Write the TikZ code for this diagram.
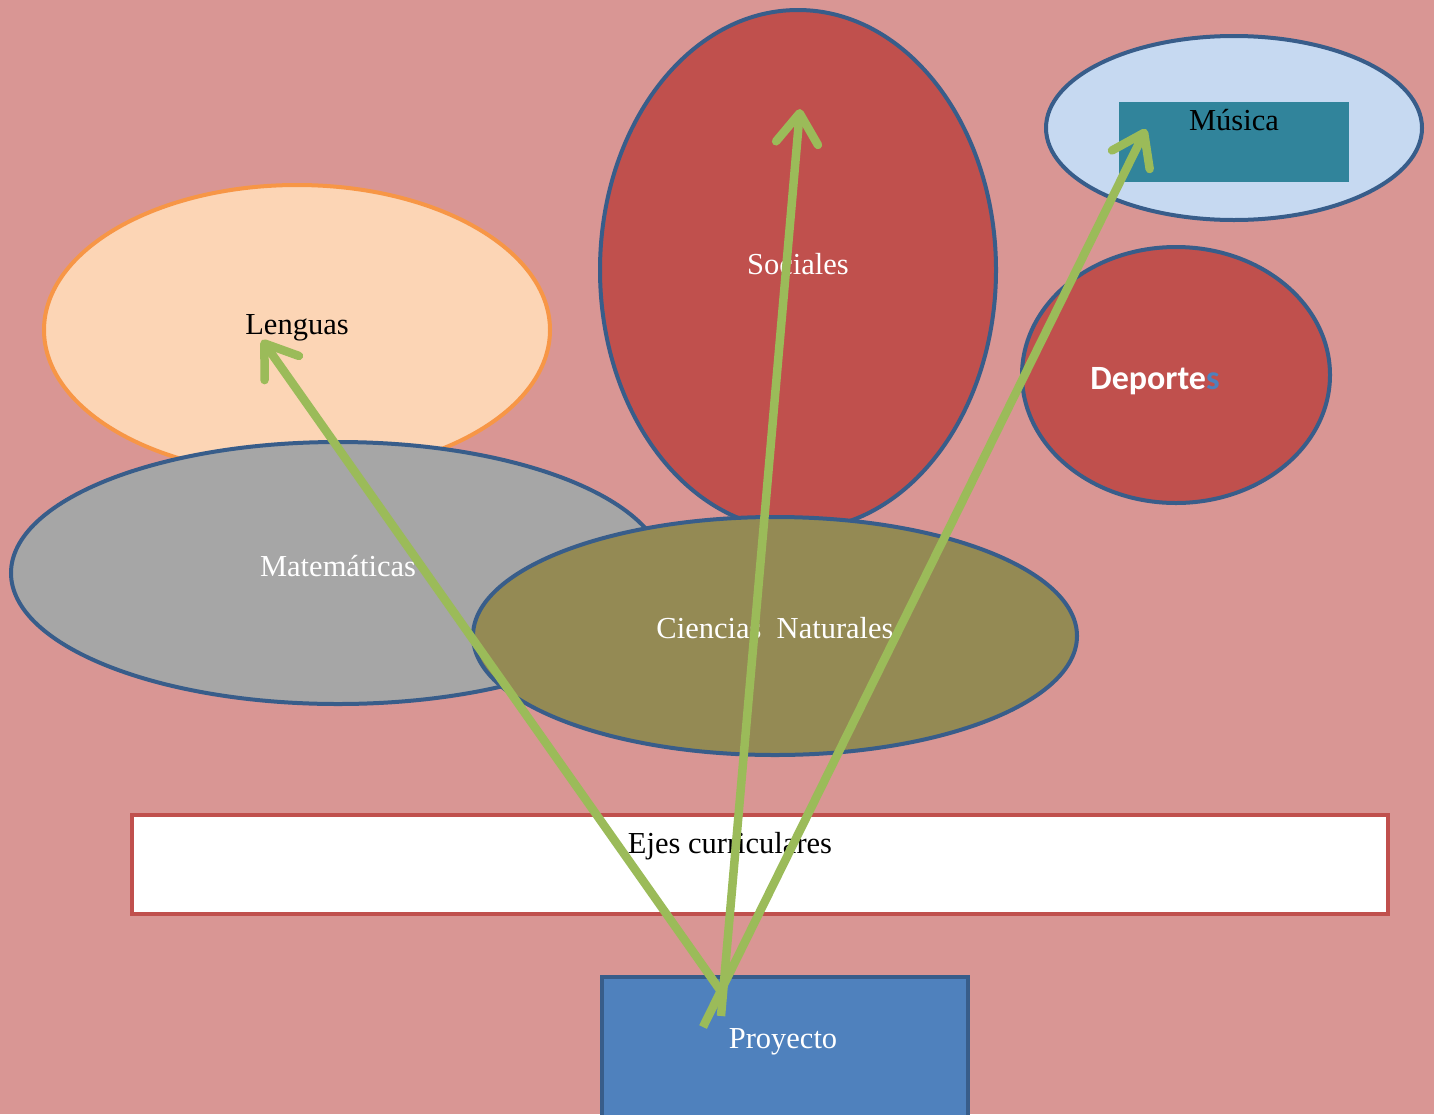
\documentclass[tikz,border=0pt]{standalone}
\usepackage{fontspec}
\setmainfont{Liberation Serif}
\newfontfamily\calib{Carlito}
\usetikzlibrary{shapes.geometric,arrows.meta,calc}
\definecolor{bgpink}{HTML}{D99694}
\definecolor{peach}{HTML}{FCD5B5}
\definecolor{orangeline}{HTML}{F79646}
\definecolor{brick}{HTML}{C0504D}
\definecolor{navyline}{HTML}{385D8A}
\definecolor{paleblue}{HTML}{C6D9F1}
\definecolor{teal}{HTML}{31849B}
\definecolor{midgray}{HTML}{A6A6A6}
\definecolor{olive}{HTML}{948A54}
\definecolor{steel}{HTML}{4F81BD}
\definecolor{leaf}{HTML}{9BBB59}
\tikzset{
  blob/.style={ellipse, draw=navyline, line width=4, inner sep=0pt},
  lbl/.style={font=\fontsize{30.5}{32}\selectfont, inner sep=0pt, anchor=base},
  link/.style={draw=leaf, line width=8.5, line cap=butt,
    -{Straight Barb[length=30pt,width=42pt,line cap=round,line join=round]}},
}
\begin{document}
\begin{tikzpicture}[x=1pt,y=-1pt]
  \fill[bgpink] (0,0) rectangle (1434,1114);
  \useasboundingbox (0,0) rectangle (1434,1114);

  % subject areas
  \node[blob, draw=orangeline, fill=peach, minimum width=506, minimum height=290] (lenguas) at (297,330) {};
  \node[blob, fill=brick, minimum width=396, minimum height=520] (sociales) at (798,270) {};
  \node[blob, fill=paleblue, minimum width=376, minimum height=184] (musica) at (1234,128) {};
  \fill[teal] (1119,102) rectangle (1349,182);
  \node[blob, fill=brick, minimum width=308, minimum height=256] (deportes) at (1176,375) {};
  \node[blob, fill=midgray, minimum width=654, minimum height=262] (mate) at (338,573) {};
  \node[blob, fill=olive, minimum width=604, minimum height=238] (ciencias) at (775,636) {};

  % axes bar and project box
  \node[draw=brick, fill=white, line width=4, minimum width=1256, minimum height=99, inner sep=0pt, anchor=north west] (ejes) at (130,813) {};
  \node[draw=navyline, fill=steel, line width=4, minimum width=366, minimum height=160, inner sep=0pt, anchor=north west] (proyecto) at (600,975) {};

  % labels
  \node[lbl] (tLenguas) at (297,334) {Lenguas};
  \node[lbl, text=white] (tSociales) at (798,274) {Sociales};
  \node[lbl] (tMusica) at (1234,130) {Música};
  \node[lbl, font=\calib\bfseries\fontsize{34}{36}\selectfont, text=white] (tDeportes) at (1155,389) {Deporte\textcolor{steel}{s}};
  \node[lbl, text=white] (tMate) at (338,576) {Matemáticas};
  \node[lbl, text=white] (tCiencias) at (775,638) {Ciencias\ \ Naturales};
  \node[lbl] (tEjes) at (730,853) {Ejes curriculares};
  \node[lbl, text=white] (tProyecto) at (783,1048) {Proyecto};

  % arrow end points
  \coordinate (sL) at ($(proyecto.north west)+(120,15)$);
  \coordinate (sS) at ($(proyecto.north west)+(121,41)$);
  \coordinate (sM) at ($(proyecto.north west)+(103,52)$);
  \coordinate (eL) at ($(lenguas.center)+(-35,10)$);
  \coordinate (eS) at ($(sociales.center)+(2,-161)$);
  \coordinate (eM) at ($(musica.center)+(-88,1)$);

  \draw[link] (sL) -- (eL);
  \draw[link] (sS) -- (eS);
  \draw[link] (sM) -- (eM);
\end{tikzpicture}
\end{document}
